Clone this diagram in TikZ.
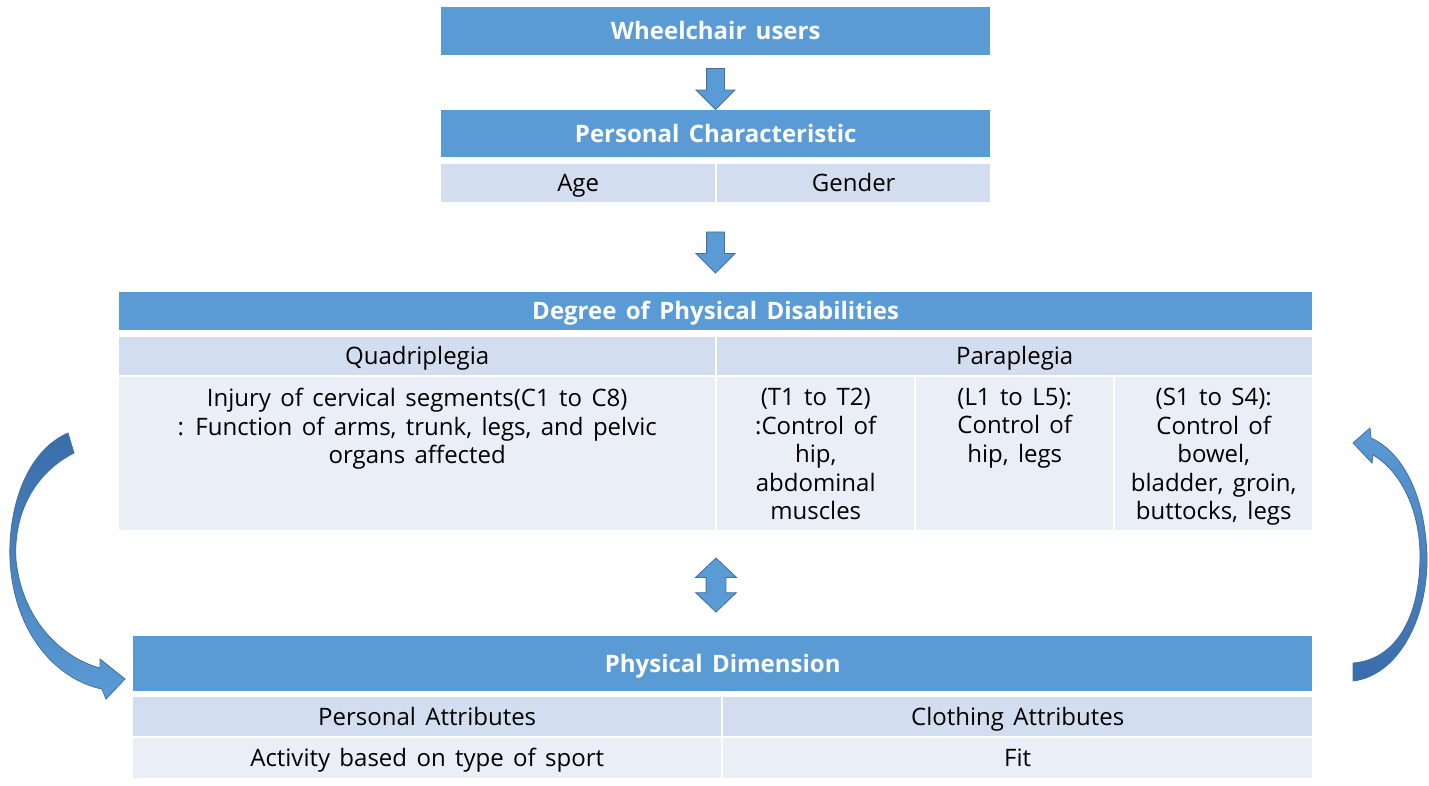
\documentclass[tikz,border=0pt]{standalone}
\usepackage{fontspec}
\setmainfont{Open Sans}[WordSpace=1.5]
\usetikzlibrary{shapes.arrows,positioning}
\definecolor{hdblue}{RGB}{91,155,213}
\definecolor{rowdark}{RGB}{210,222,239}
\definecolor{rowlight}{RGB}{233,238,247}
\definecolor{arrline}{RGB}{65,113,156}
\definecolor{arrdark}{RGB}{58,108,170}
\tikzset{
    box/.style={rectangle, inner sep=0pt, anchor=north west, text height=20pt, text depth=3pt,
        font=\fontsize{24}{28.5}\selectfont},
    hd/.style={box, fill=hdblue, text=white, font=\fontsize{24}{28.5}\selectfont\bfseries},
    rowa/.style={box, fill=rowdark},
    rowb/.style={box, fill=rowlight},
    txt/.style={inner sep=0pt, anchor=north, align=center, font=\fontsize{24}{28.5}\selectfont},
    blk/.style={single arrow, shape border rotate=270, fill=hdblue, draw=arrline, line width=0.8pt,
        minimum height=41pt, single arrow head extend=10.5pt, inner sep=8.5pt},
    dblk/.style={double arrow, shape border rotate=90, fill=hdblue, draw=arrline, line width=0.8pt,
        minimum height=54pt, double arrow head extend=10.5pt, double arrow tip angle=93,
        inner xsep=9.5pt, inner ysep=7pt},
    curvarr/.style={draw=arrline, line width=0.8pt}
}
\begin{document}
\begin{tikzpicture}[x=1pt, y=-1pt]
    \useasboundingbox (0,0) rectangle (1429,785);
    % Wheelchair users
    \node[hd, minimum width=549pt, minimum height=48pt] (wheel) at (441,7) {Wheelchair users};
    \node[blk] (arr1) at (715.5,84.5) {};
    % Personal characteristic
    \node[hd, minimum width=549pt, minimum height=47pt] (pers) at (441,110) {Personal Characteristic};
    \node[rowa, minimum width=274pt, minimum height=38pt] (age) at (441,164) {Age};
    \node[rowa, minimum width=273pt, minimum height=38pt] (gender) at (717,164) {Gender};
    \node[blk] (arr2) at (715.5,248) {};
    % Degree of physical disabilities
    \node[hd, minimum width=1193pt, minimum height=38pt] (degree) at (119,292) {Degree of Physical Disabilities};
    \node[rowa, minimum width=596pt, minimum height=38pt] (quad) at (119,337) {Quadriplegia};
    \node[rowa, minimum width=595pt, minimum height=38pt] (para) at (717,337) {Paraplegia};
    \node[rowb, minimum width=596pt, minimum height=153pt] (quadc) at (119,377) {};
    \node[rowb, minimum width=197pt, minimum height=153pt] (thor) at (717,377) {};
    \node[rowb, minimum width=197pt, minimum height=153pt] (lumb) at (916,377) {};
    \node[rowb, minimum width=197pt, minimum height=153pt] (sacr) at (1115,377) {};
    \node[txt] (quadt) at ([yshift=-11pt]quadc.north) {Injury of cervical segments(C1 to C8)\\: Function of arms, trunk, legs, and pelvic\\organs affected};
    \node[txt] (thort) at ([yshift=-11pt]thor.north) {(T1 to T2)\\:Control of\\hip,\\abdominal\\muscles};
    \node[txt] (lumbt) at ([yshift=-11pt]lumb.north) {(L1 to L5):\\Control of\\hip, legs};
    \node[txt] (sacrt) at ([yshift=-11pt]sacr.north) {(S1 to S4):\\Control of\\bowel,\\bladder, groin,\\buttocks, legs};
    \node[dblk] (arr3) at (716,585) {};
    % Physical dimension
    \node[hd, minimum width=1179pt, minimum height=55pt] (phys) at (133,636) {Physical Dimension};
    \node[rowa, minimum width=588pt, minimum height=39pt] (pattr) at (133,697) {Personal Attributes};
    \node[rowa, minimum width=589pt, minimum height=39pt] (cattr) at (723,697) {Clothing Attributes};
    \node[rowb, minimum width=588pt, minimum height=40pt] (activ) at (133,738) {Activity based on type of sport};
    \node[rowb, minimum width=589pt, minimum height=40pt] (fit) at (723,738) {Fit};
    % curved arrows
    \path[curvarr, top color=arrdark, bottom color=hdblue]
        (68,433) .. controls (25,452) and (8,510) .. (10,560)
        .. controls (14,635) and (58,680) .. (102,689)
        -- (106,699) -- (125,679) -- (100,659) -- (100,668)
        .. controls (62,658) and (22,620) .. (16,560)
        .. controls (13,512) and (36,472) .. (74,453) -- cycle;
    \path[curvarr, top color=hdblue, bottom color=arrdark]
        (1353,681) .. controls (1396,676) and (1428,622) .. (1427,556)
        .. controls (1425,494) and (1402,452) .. (1371,438)
        -- (1370,428) -- (1353,443) -- (1372,463) -- (1373,455)
        .. controls (1402,472) and (1420,512) .. (1420,556)
        .. controls (1420,620) and (1394,660) .. (1353,663) -- cycle;
\end{tikzpicture}
\end{document}
